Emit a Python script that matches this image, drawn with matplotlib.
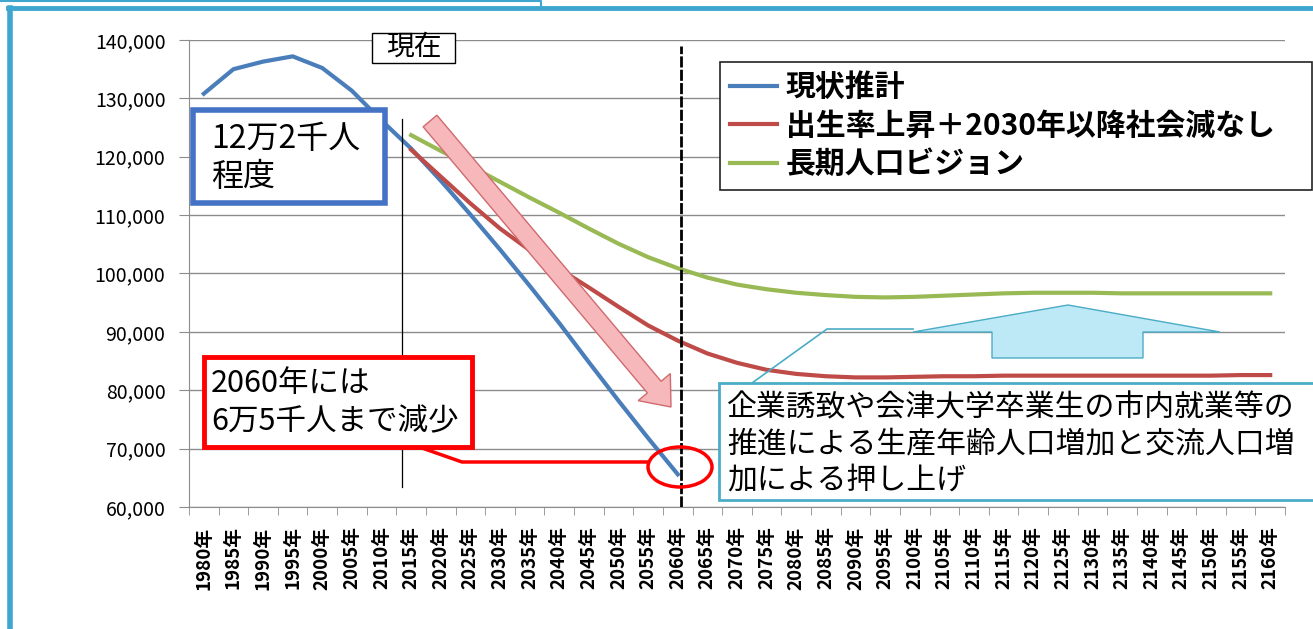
import matplotlib
matplotlib.use('Agg')
import matplotlib.pyplot as plt
import matplotlib.patches as mpatches
import matplotlib.transforms as mtransforms
from matplotlib.lines import Line2D
from matplotlib.ticker import FixedLocator, StrMethodFormatter

plt.rcParams['font.family'] = ['Noto Sans CJK JP', 'DejaVu Sans']

W, H = 1313, 629

years = list(range(1980, 2161, 5))
year_labels = [f'{y}年' for y in years]

# 現状推計 (1980-2060)
current_est = [130800, 135000, 136300, 137200, 135200, 131300, 126200, 121400, 115900,
               110100, 104100, 97900, 91500, 84800, 78200, 71800, 65600]
# 出生率上昇＋2030年以降社会減なし (2015-2160)
birth_up = [121200, 116600, 112000, 107700, 104000, 100800, 97600, 94300, 91100, 88500,
            86300, 84700, 83500, 82800, 82400, 82200, 82200, 82300, 82400, 82400,
            82500, 82500, 82500, 82500, 82500, 82500, 82500, 82500, 82600, 82600]
# 長期人口ビジョン (2015-2160)
vision = [123700, 121000, 118400, 115700, 113000, 110400, 107700, 105100, 102800, 100900,
          99300, 98100, 97300, 96700, 96300, 96000, 95900, 96000, 96200, 96400,
          96600, 96700, 96700, 96700, 96600, 96600, 96600, 96600, 96600, 96600]

series_names = ['現状推計', '出生率上昇＋2030年以降社会減なし', '長期人口ビジョン']
series_colors = ['#4A7EBB', '#BE4B48', '#98B954']

now_pos = 6.7      # 現在 marker (between 2010 and 2015)
target_pos = 16.1  # 2060

blue_note = ['12万2千人', '程度']
red_note = ['2060年には', '6万5千人まで減少']
push_note = ['企業誘致や会津大学卒業生の市内就業等の',
             '推進による生産年齢人口増加と交流人口増',
             '加による押し上げ']

fig = plt.figure(figsize=(W / 100, H / 100), dpi=100)
px = mtransforms.Affine2D().scale(1 / W, -1 / H).translate(0, 1) + fig.transFigure

left, right, top, bottom = 189, 1285, 40, 507
ax = fig.add_axes([left / W, 1 - bottom / H, (right - left) / W, (bottom - top) / H])

x_cur = list(range(len(current_est)))
x_fut = list(range(7, 7 + len(birth_up)))
ax.plot(x_cur, current_est, color=series_colors[0], lw=3, label=series_names[0],
        solid_joinstyle='round', zorder=3)
ax.plot(x_fut, birth_up, color=series_colors[1], lw=3, label=series_names[1], zorder=3)
ax.plot(x_fut, vision, color=series_colors[2], lw=3, label=series_names[2], zorder=3)

ax.set_xlim(-0.5, len(years) - 0.5)
ax.set_ylim(60000, 140000)
ax.set_yticks(range(60000, 140001, 10000))
ax.yaxis.set_major_formatter(StrMethodFormatter('{x:,.0f}'))
ax.grid(axis='y', color='#8C8C8C', lw=1)
ax.set_axisbelow(True)
ax.set_xticks(range(len(years)))
ax.set_xticklabels(year_labels, rotation=90, fontsize=13.5, fontweight='bold')
ax.xaxis.set_minor_locator(FixedLocator([i - 0.5 for i in range(len(years) + 1)]))
ax.tick_params(axis='x', which='major', length=0, pad=14)
ax.tick_params(axis='x', which='minor', length=6, color='#8C8C8C')
ax.tick_params(axis='y', length=7, color='#8C8C8C', labelsize=14, pad=10)
for s in ['top', 'right']:
    ax.spines[s].set_visible(False)
for s in ['left', 'bottom']:
    ax.spines[s].set_color('#8C8C8C')

# vertical markers
ax.plot([now_pos, now_pos], [63500, 126500], color='black', lw=0.9, zorder=4)
ax.plot([target_pos, target_pos], [60000, 139000], color='black', lw=2,
        linestyle=(0, (4, 0.8)), zorder=4)

leg = ax.legend(loc='upper left', bbox_to_anchor=(720 / W, 1 - 190 / H, 592 / W, 128 / H),
                bbox_transform=fig.transFigure, mode='expand', borderaxespad=0,
                fancybox=False, edgecolor='#222222', framealpha=1, handlelength=1.55,
                handletextpad=0.3, labelspacing=0.28, borderpad=0.35,
                prop={'size': 21.5, 'weight': 'bold', 'family': ['Noto Sans CJK JP']})
leg.get_frame().set_linewidth(1.2)

# 現在 label box
fig.add_artist(mpatches.Rectangle((372, 33), 83, 30, transform=px, fc='white',
                                  ec='black', lw=1))
fig.text(413.5, 47, '現在', transform=px, ha='center', va='center', fontsize=20)

# blue note box
fig.add_artist(mpatches.Rectangle((193, 110), 192, 93, transform=px, fc='white',
                                  ec='#4472C4', lw=4))
for i, line in enumerate(blue_note):
    fig.text(211, 139 + 38 * i, line, transform=px, ha='left', va='center', fontsize=23)

# red note box + connector + ellipse
fig.add_artist(mpatches.Rectangle((204, 357), 268, 90, transform=px, fc='white',
                                  ec='#FF0000', lw=3.5))
for i, line in enumerate(red_note):
    fig.text(211, 383 + 39 * i, line, transform=px, ha='left', va='center', fontsize=22)
fig.add_artist(Line2D([422, 462, 648], [448, 462, 462], transform=px, color='#FF0000', lw=2.5))
fig.add_artist(mpatches.Ellipse((680, 467), 64, 40, transform=px, fc='none',
                                ec='#FF0000', lw=2.5))

# pink arrow
fig.add_artist(mpatches.FancyArrow(430, 121, 241, 286, width=18, head_width=42,
                                   head_length=26, length_includes_head=True,
                                   transform=px, fc='#F6B8BB', ec='#D06A6E', lw=1))

# light blue up arrow
arrow_pts = [(913, 332), (1068, 305), (1220, 332), (1143, 332), (1143, 358),
             (992, 358), (992, 332)]
fig.add_artist(mpatches.Polygon(arrow_pts, closed=True, transform=px, fc='#BDE8F6',
                                ec='#4BACC6', lw=1))

# callout box
fig.add_artist(Line2D([752, 827, 913], [383, 329, 329], transform=px, color='#4BACC6', lw=1.2))
fig.add_artist(mpatches.Rectangle((719, 383), 620, 117, transform=px, fc='white',
                                  ec='#4BACC6', lw=2))
for i, line in enumerate(push_note):
    fig.text(727, 408 + 36 * i, line, transform=px, ha='left', va='center', fontsize=21.5)

# outer frames
fig.add_artist(Line2D([10, 10], [8, H], transform=px, color='#3FA7CF', lw=4))
fig.add_artist(Line2D([8, W], [8, 8], transform=px, color='#3FA7CF', lw=3.5))
fig.add_artist(Line2D([0, 541, 541], [1, 1, 7], transform=px, color='#3FA7CF', lw=1.5))

fig.savefig('out.png', dpi=100)
